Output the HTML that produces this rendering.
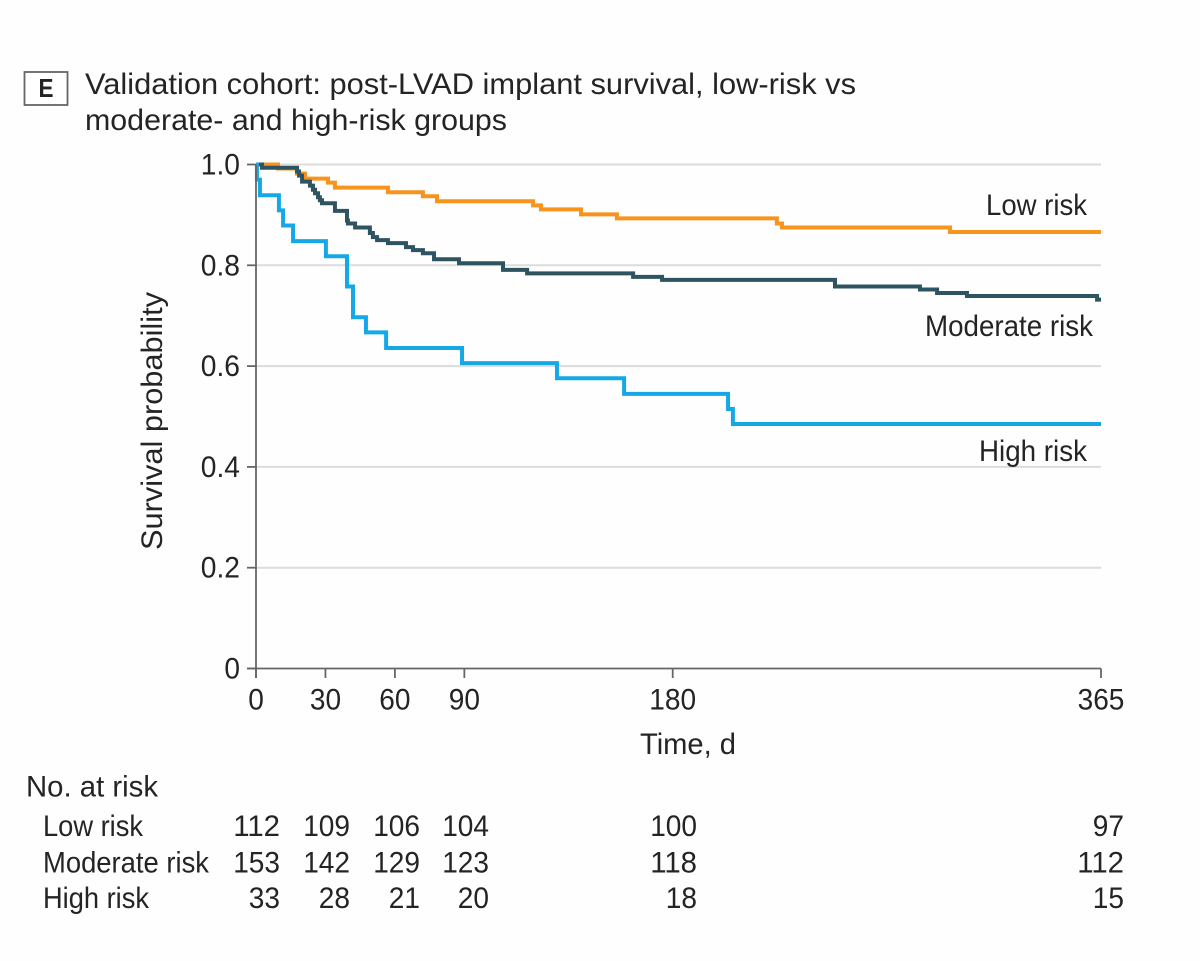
<!DOCTYPE html>
<html lang="en">
<head>
<meta charset="utf-8">
<title>Validation cohort survival</title>
<style>
  html, body { margin: 0; padding: 0; background: #fff; }
  svg { display: block; }
  text { font-family: "Liberation Sans", sans-serif; font-size: 30px; fill: #242424; }
</style>
</head>
<body>
<svg id="chart" xmlns="http://www.w3.org/2000/svg" width="1200" height="961" viewBox="0 0 1200 961">
  <rect x="0" y="0" width="1200" height="961" fill="#fefefe"/>
  <rect x="24.5" y="72" width="43" height="33" fill="#fff" stroke="#666" stroke-width="1.8"/>
  <text x="46" y="97" text-anchor="middle" style="font-weight:bold;font-size:26px" textLength="15" lengthAdjust="spacingAndGlyphs">E</text>
  <text x="85" y="94" textLength="771" lengthAdjust="spacingAndGlyphs">Validation cohort: post-LVAD implant survival, low-risk vs</text>
  <text x="85" y="130" textLength="422" lengthAdjust="spacingAndGlyphs">moderate- and high-risk groups</text>

  <g id="grid"></g>
  <g id="series"></g>
  <g id="axes"></g>

  <text transform="translate(162,421) rotate(-90)" text-anchor="middle" textLength="258" lengthAdjust="spacingAndGlyphs">Survival probability</text>
  <text x="640" y="754" textLength="96" lengthAdjust="spacingAndGlyphs">Time, d</text>

  <text x="986" y="215" textLength="101" lengthAdjust="spacingAndGlyphs">Low risk</text>
  <text x="925" y="336" textLength="168" lengthAdjust="spacingAndGlyphs">Moderate risk</text>
  <text x="979" y="461" textLength="108" lengthAdjust="spacingAndGlyphs">High risk</text>

  <text x="26" y="796.5" textLength="132" lengthAdjust="spacingAndGlyphs">No. at risk</text>
  <text x="43" y="836" textLength="100" lengthAdjust="spacingAndGlyphs">Low risk</text>
  <text x="43" y="872.5" textLength="166" lengthAdjust="spacingAndGlyphs">Moderate risk</text>
  <text x="43" y="908" textLength="106" lengthAdjust="spacingAndGlyphs">High risk</text>
  <g id="risk-table"></g>
</svg>

<script>
const xTicks = [0, 30, 60, 90, 180, 365];
const yTicks = [0, 0.2, 0.4, 0.6, 0.8, 1.0];
const yTickLabels = ['0', '0.2', '0.4', '0.6', '0.8', '1.0'];

const lowDays = [0, 9.5, 17.7, 21.2, 31.1, 34.1, 57, 72.1, 78.2, 119.7, 123.1, 140.4, 155.9, 225, 227.2, 299.8];
const lowSurvival = [1, 0.992, 0.982, 0.972, 0.964, 0.954, 0.945, 0.937, 0.927, 0.919, 0.911, 0.901, 0.893, 0.883, 0.875, 0.866];

const moderateDays = [0, 2.6, 17.7, 18.6, 19.9, 23.3, 24.6, 25.5, 26.8, 27.6, 28.5, 34.1, 39.3, 39.7, 42.8, 49.2, 50.5, 52.3, 57, 64.8, 67.8, 72.1, 76.9, 87.7, 106.7, 117.1, 162.9, 175.4, 250.1, 286.8, 294.2, 307.1, 363.3];
const moderateSurvival = [1, 0.9935, 0.986, 0.978, 0.966, 0.958, 0.95, 0.943, 0.935, 0.929, 0.923, 0.908, 0.889, 0.883, 0.875, 0.864, 0.856, 0.85, 0.844, 0.836, 0.83, 0.824, 0.812, 0.804, 0.791, 0.784, 0.777, 0.771, 0.758, 0.752, 0.745, 0.739, 0.732];

const highDays = [0, 0.4, 1.7, 9.9, 11.7, 16, 30.2, 39.3, 41.9, 47.5, 56.2, 89, 130, 159, 203.9, 206];
const highSurvival = [1, 0.97, 0.939, 0.909, 0.879, 0.848, 0.818, 0.758, 0.697, 0.667, 0.636, 0.606, 0.576, 0.545, 0.515, 0.485];

const riskLow = [112, 109, 106, 104, 100, 97];
const riskModerate = [153, 142, 129, 123, 118, 112];
const riskHigh = [33, 28, 21, 20, 18, 15];

const NS = 'http://www.w3.org/2000/svg';
const xAxisMax = 365;
const xScale = d => 256 + d * (1101 - 256) / xAxisMax;
const yScale = s => 668.5 - s * 504;
const numWidth = s => s.replace(/\./g, '').length * 15.6 + (s.includes('.') ? 8 : 0);

function make(tag, parent, attrs, txt) {
  const el = document.createElementNS(NS, tag);
  for (const k in attrs) el.setAttribute(k, attrs[k]);
  if (txt !== undefined) el.textContent = txt;
  parent.appendChild(el);
  return el;
}

const gridG = document.getElementById('grid');
const axesG = document.getElementById('axes');
const seriesG = document.getElementById('series');
const tableG = document.getElementById('risk-table');

yTicks.forEach((v, i) => {
  if (v > 0) {
    const g = make('line', gridG, { x1: xScale(0), x2: xScale(xAxisMax), y1: yScale(v), y2: yScale(v), stroke: '#dcdcdc', 'stroke-width': 2 });
    
    
  }
  const t = make('line', axesG, { x1: 247, x2: xScale(0), y1: yScale(v), y2: yScale(v), stroke: '#666', 'stroke-width': 1.8 });
  
  
  const l = make('text', axesG, { x: 240, y: yScale(v) + 10, 'text-anchor': 'end', textLength: numWidth(yTickLabels[i]), lengthAdjust: 'spacingAndGlyphs' }, yTickLabels[i]);
  
  
});

xTicks.forEach(v => {
  const t = make('line', axesG, { x1: xScale(v), x2: xScale(v), y1: yScale(0), y2: 678, stroke: '#666', 'stroke-width': 1.8 });
  
  
  const l = make('text', axesG, { x: xScale(v), y: 709.5, 'text-anchor': 'middle', textLength: numWidth(String(v)), lengthAdjust: 'spacingAndGlyphs' }, String(v));
  
  
});

function stepPath(days, values) {
  let d = 'M' + xScale(days[0]) + ' ' + yScale(values[0]);
  for (let i = 1; i < days.length; i++) {
    d += 'H' + xScale(days[i]) + 'V' + yScale(values[i]);
  }
  return d + 'H' + xScale(xAxisMax);
}

const lowPath = make('path', seriesG, { d: stepPath(lowDays, lowSurvival), fill: 'none', stroke: '#f7941d', 'stroke-width': 4 });


const moderatePath = make('path', seriesG, { d: stepPath(moderateDays, moderateSurvival), fill: 'none', stroke: '#2e5461', 'stroke-width': 4 });


const highPath = make('path', seriesG, { d: stepPath(highDays, highSurvival), fill: 'none', stroke: '#14a9e6', 'stroke-width': 4 });



const yAxisLine = make('line', axesG, { x1: xScale(0), x2: xScale(0), y1: yScale(1), y2: 678, stroke: '#666', 'stroke-width': 1.8 });


const xAxisLine = make('line', axesG, { x1: 247, x2: xScale(xAxisMax), y1: yScale(0), y2: yScale(0), stroke: '#666', 'stroke-width': 1.8 });



const riskRight = [280, 350, 420, 489, 697, 1124];
[[riskLow, 836], [riskModerate, 872.5], [riskHigh, 908]].forEach(row => {
  row[0].forEach((n, i) => {
    const c = make('text', tableG, { x: riskRight[i], y: row[1], 'text-anchor': 'end', textLength: numWidth(String(n)), lengthAdjust: 'spacingAndGlyphs' }, String(n));
    
    
  });
});
</script>
</body>
</html>
